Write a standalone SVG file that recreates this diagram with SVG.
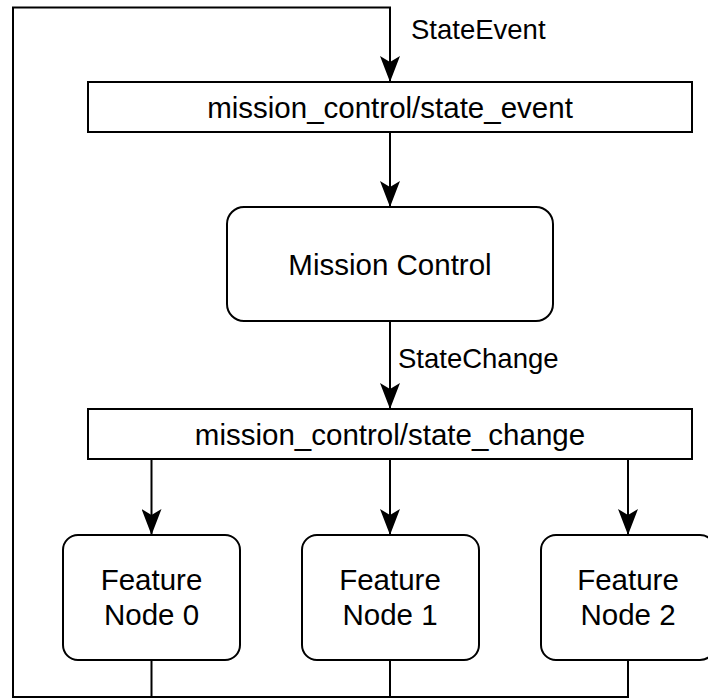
<svg xmlns="http://www.w3.org/2000/svg" width="708" height="699" viewBox="0 0 708 699">
  <defs>
    <style>
      .box { fill: #ffffff; stroke: #000000; stroke-width: 2; }
      .edge { fill: none; stroke: #000000; stroke-width: 2; }
      .label { font-family: "Liberation Sans", Arial, sans-serif; font-size: 27.5px; fill: #000000; }
      .name { font-family: "Liberation Sans", Arial, sans-serif; font-size: 29.5px; fill: #000000; text-anchor: middle; }
    </style>
    <marker id="arrow" markerUnits="userSpaceOnUse" markerWidth="26" markerHeight="20" viewBox="0 0 26 20" refX="26" refY="10" orient="auto">
      <path d="M0,0 L26,10 L0,20 L6,10 Z" fill="#000000"/>
    </marker>
  </defs>

  <rect width="708" height="699" fill="#ffffff"/>

  <!-- connectors -->
  <g id="connectors">
    <!-- feedback loop from the feature nodes back to the state_event topic -->
    <path class="edge" d="M151.5,660 V697 H13 V7.5 H390 V82" marker-end="url(#arrow)"/>
    <path class="edge" d="M390,660 V697 H151.5"/>
    <path class="edge" d="M628,660 V697 H390"/>
    <!-- state_event topic to mission control -->
    <path class="edge" d="M390,132 V207" marker-end="url(#arrow)"/>
    <!-- mission control to state_change topic -->
    <path class="edge" d="M390,321 V409" marker-end="url(#arrow)"/>
    <!-- state_change topic fan-out -->
    <path class="edge" d="M151.5,459 V535" marker-end="url(#arrow)"/>
    <path class="edge" d="M390,459 V535" marker-end="url(#arrow)"/>
    <path class="edge" d="M628,459 V535" marker-end="url(#arrow)"/>
    <text class="label" x="411" y="39">StateEvent</text>
    <text class="label" x="398" y="368">StateChange</text>
  </g>

  <g id="topic-state-event">
    <rect class="box" x="88" y="82" width="604" height="50"/>
    <text class="name" x="390" y="118">mission_control/state_event</text>
  </g>

  <g id="mission-control">
    <rect class="box" x="227" y="207" width="326" height="114" rx="17" ry="17"/>
    <text class="name" x="390" y="275">Mission Control</text>
  </g>

  <g id="topic-state-change">
    <rect class="box" x="88" y="409" width="604" height="50"/>
    <text class="name" x="390" y="445">mission_control/state_change</text>
  </g>

  <g id="feature-node-0">
    <rect class="box" x="63" y="535" width="177" height="125" rx="15" ry="15"/>
    <text class="name" x="151.5" y="590">Feature</text>
    <text class="name" x="151.5" y="625">Node 0</text>
  </g>

  <g id="feature-node-1">
    <rect class="box" x="302" y="535" width="177" height="125" rx="15" ry="15"/>
    <text class="name" x="390" y="590">Feature</text>
    <text class="name" x="390" y="625">Node 1</text>
  </g>

  <g id="feature-node-2">
    <rect class="box" x="541" y="535" width="174" height="125" rx="15" ry="15"/>
    <text class="name" x="628" y="590">Feature</text>
    <text class="name" x="628" y="625">Node 2</text>
  </g>
</svg>
